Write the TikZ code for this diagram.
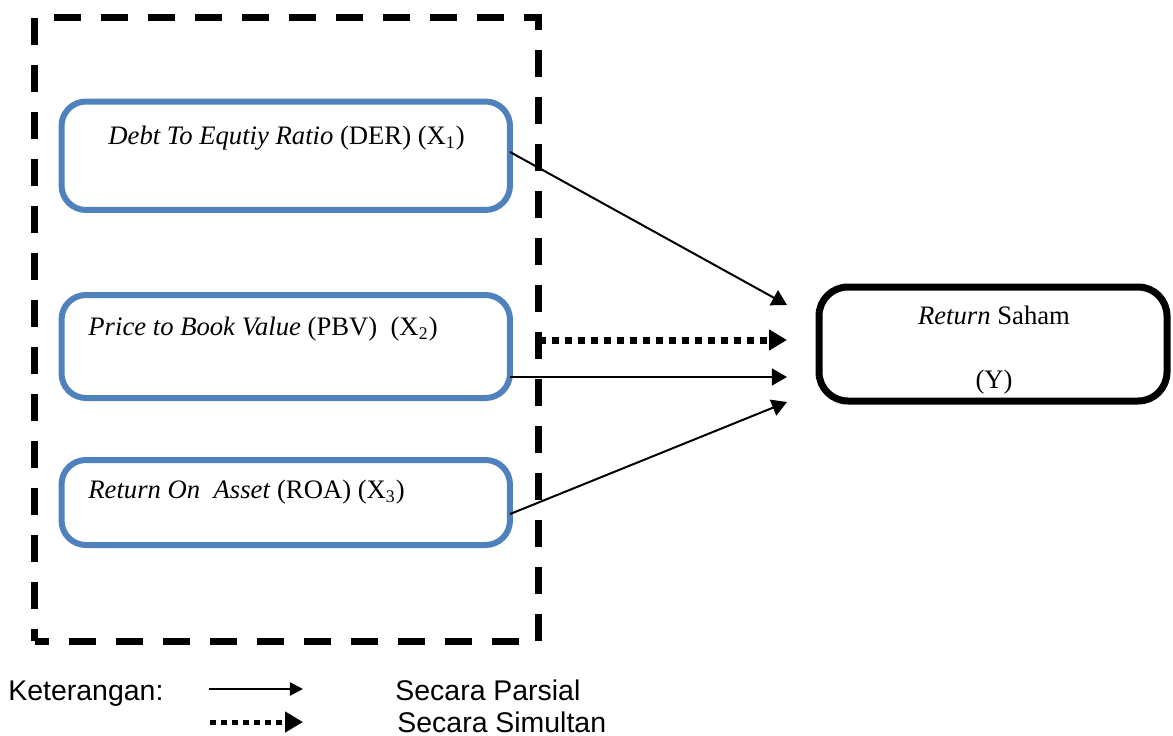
\documentclass[tikz,border=0pt]{standalone}
\usepackage{fontspec}
\setmainfont{Liberation Serif}
\newfontfamily\legendfont{Liberation Sans}
\usetikzlibrary{arrows.meta}

\definecolor{boxblue}{HTML}{4F81BD}

\begin{document}
\begin{tikzpicture}[x=0.45pt, y=-0.45pt,
  varbox/.style={draw=boxblue, line width=2.7pt, rounded corners=11pt,
                 minimum width=201.8pt, inner sep=0pt, outer sep=0pt},
  targetbox/.style={draw=black, line width=3.15pt, rounded corners=13pt,
                 minimum width=156.6pt, minimum height=51.3pt, inner sep=0pt, outer sep=0pt},
  groupframe/.style={draw=black, line width=3.15pt,
                 dash pattern=on 12.15pt off 9pt, dash phase=6pt,
                 minimum width=226.6pt, minimum height=280.6pt, inner sep=0pt, outer sep=0pt},
  lbl/.style={anchor=base west, inner sep=0pt, font=\fontsize{12}{14}\selectfont},
  clbl/.style={anchor=base, inner sep=0pt, font=\fontsize{12}{14}\selectfont},
  leg/.style={anchor=base west, inner sep=0pt, font=\legendfont\fontsize{12.8}{15}\selectfont},
  partial/.style={line width=0.9pt, -{Triangle[length=6.8pt, width=7.6pt]}},
  simult/.style={line width=3.15pt, dash pattern=on 3.15pt off 2.7pt,
                 -{Triangle[length=8.1pt, width=9pt]}},
  legpartial/.style={line width=0.9pt, -{Triangle[length=5.9pt, width=5.9pt]}},
  legsimult/.style={line width=2.25pt, dash pattern=on 2.7pt off 2.25pt,
                 -{Triangle[length=8.1pt, width=9pt]}}
]
\useasboundingbox (0,0) rectangle (1173,735);

% dashed frame around the independent variables
\node[groupframe] (frame) at (286.75,329.25) {};

% independent variables
\node[varbox, minimum height=48.8pt] (der) at (285.75,155.75) {};
\node[varbox, minimum height=46.35pt] (pbv) at (285.75,346.5) {};
\node[varbox, minimum height=38.25pt] (roa) at (285.75,502.5) {};

\node[lbl] (derlbl) at (108,145) {\textit{Debt To Equtiy Ratio} (DER) (X\textsubscript{1})};
\node[lbl] (pbvlbl) at (88,335) {\textit{Price to Book Value} (PBV)\hspace{0.5em}(X\textsubscript{2})};
\node[lbl] (roalbl) at (88,498) {\textit{Return On\hspace{0.5em}Asset} (ROA) (X\textsubscript{3})};

% dependent variable
\node[targetbox] (ret) at (993,344) {};
\node[clbl] (retlbl) at (994,324) {\textit{Return} Saham};
\node[clbl] (ylbl) at (994,388) {(Y)};

% arrow end points in front of the dependent variable
\coordinate (t1) at (787,305);
\coordinate (t2) at (787,340);
\coordinate (t3) at (787,377);
\coordinate (t4) at (787,402);

\draw[partial] ([yshift=1.7pt]der.east) -- (t1);
\draw[simult] (frame.east |- t2) -- (t2);
\draw[partial] (pbv.east |- t3) -- (t3);
\draw[partial] ([yshift=-5.2pt]roa.east) -- (t4);

% legend
\node[leg] (ket) at (8,700) {Keterangan:};
\coordinate (l1s) at (209,689);
\coordinate (l1e) at (303,689);
\coordinate (l2s) at (210,722);
\coordinate (l2e) at (303,722);
\draw[legpartial] (l1s) -- (l1e);
\draw[legsimult] (l2s) -- (l2e);
\node[leg] (parsial) at (395,700) {Secara Parsial};
\node[leg] (simultan) at (397,732) {Secara Simultan};
\end{tikzpicture}
\end{document}
